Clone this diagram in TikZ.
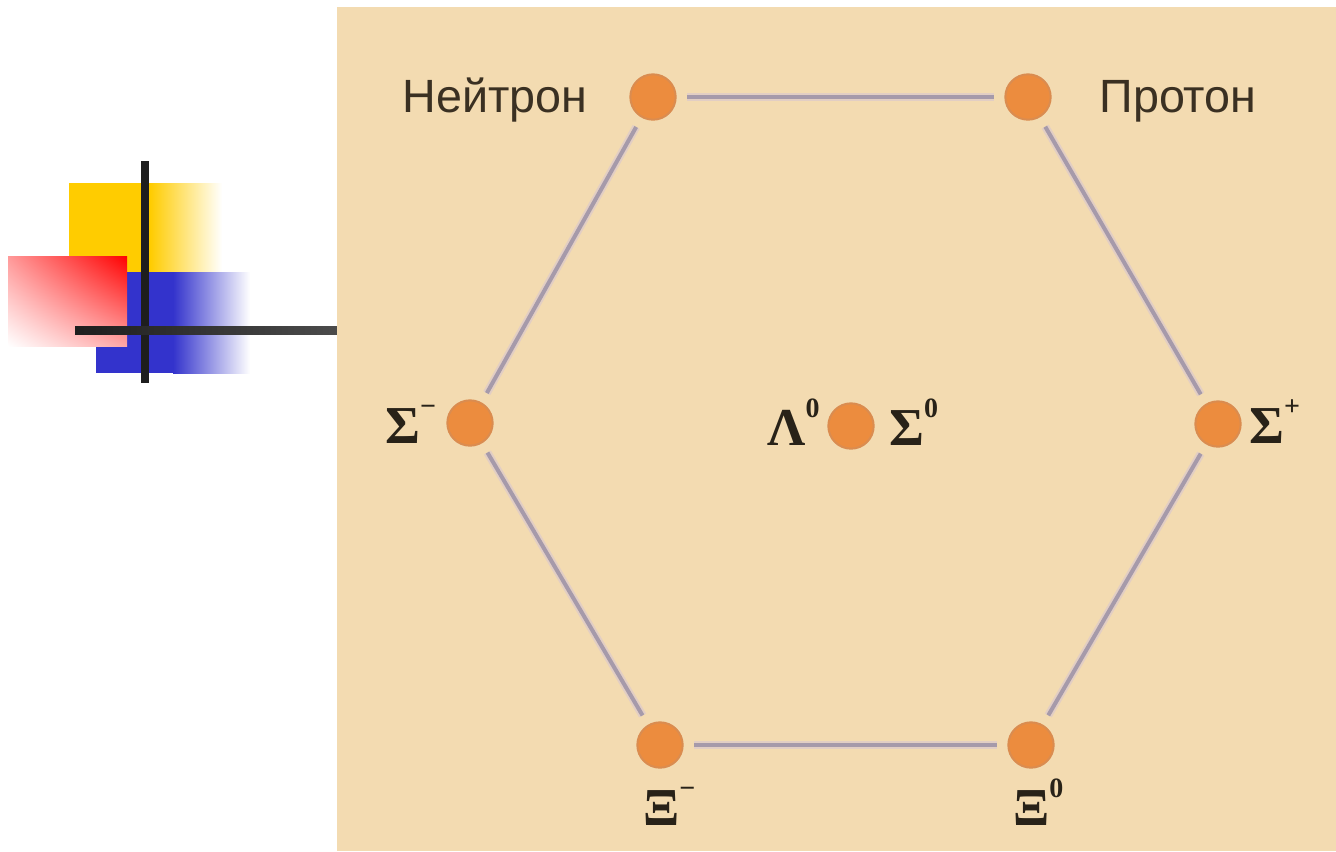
\documentclass[tikz,border=0pt]{standalone}
\usepackage{fontspec}
\usetikzlibrary{shadings}
\newfontfamily\rusfont{Liberation Sans}
\newfontfamily\grkfont{Liberation Serif}
\newcommand\gsup[1]{\raisebox{0.52em}{\fontsize{21}{21}\selectfont #1}}
\definecolor{beige}{RGB}{243,219,177}
\definecolor{dotfill}{RGB}{236,140,62}
\definecolor{dotedge}{RGB}{218,140,80}
\definecolor{edgecol}{RGB}{166,154,170}
\definecolor{halocol}{RGB}{226,206,196}
\definecolor{txtcol}{RGB}{58,48,34}
\definecolor{gtxt}{RGB}{40,34,24}
\definecolor{yel}{RGB}{255,204,0}
\definecolor{blu}{RGB}{51,51,204}
\definecolor{rd}{RGB}{255,0,0}
\definecolor{barcol}{RGB}{30,30,30}
\tikzset{
  particle/.style={circle, inner sep=0pt, minimum size=34pt, fill=dotfill, draw=dotedge, line width=1.5pt},
  halo/.style={draw=halocol, line width=6pt, shorten >=8pt, shorten <=8pt},
  bond/.style={draw=edgecol, line width=3pt, shorten >=8pt, shorten <=8pt},
  rlabel/.style={font=\rusfont\fontsize{35}{40}\selectfont, text=txtcol, inner sep=0pt, anchor=base},
  glabel/.style={font=\grkfont\bfseries\fontsize{40}{44}\selectfont, text=gtxt, inner sep=0pt, anchor=base west}
}
\begin{document}
\begin{tikzpicture}[x=0.75pt,y=-0.75pt]
\useasboundingbox (0,0) rectangle (1336,851);
% left decoration
\fill[yel] (69,183) rectangle (150,272);
\shade[left color=yel, right color=white] (150,183) rectangle (222,272);
\fill[blu] (96,272) rectangle (173,373);
\shade[left color=blu, right color=white] (173,272) rectangle (250,373);
\shade[upper left=rd!40, upper right=rd, lower left=white, lower right=rd!35] (8,256) rectangle (127,346);
\fill[barcol] (141,161) rectangle (149,383);
\shade[left color=barcol, right color=barcol!80!white] (75,326) rectangle (337,334);
% background panel
\fill[beige] (337,7) rectangle (1336,851);
% particles
\node[particle] (n) at (653,97) {};
\node[particle] (p) at (1028,97) {};
\node[particle] (sm) at (470,423) {};
\node[particle] (c) at (851,426) {};
\node[particle] (sp) at (1218,424) {};
\node[particle] (xm) at (660,745) {};
\node[particle] (x0) at (1031,745) {};
% edges
\foreach \a/\b in {n/p, p/sp, sp/x0, x0/xm, xm/sm, sm/n}{
  \path[halo] (\a) -- (\b);
}
\foreach \a/\b in {n/p, p/sp, sp/x0, x0/xm, xm/sm, sm/n}{
  \path[bond] (\a) -- (\b);
}
% labels
\node[rlabel] (ln) at (495,112) {Нейтрон};
\node[rlabel] (lp) at (1178,112) {Протон};
\node[glabel] (lsm) at (385,443) {Σ\gsup{−}};
\node[glabel] (ll) at (767,445) {Λ\gsup{0}};
\node[glabel] (ls0) at (889,445) {Σ\gsup{0}};
\node[glabel] (lsp) at (1249,443) {Σ\gsup{+}};
\node[glabel] (lxm) at (643,825) {Ξ\gsup{−}};
\node[glabel] (lx0) at (1013,825) {Ξ\gsup{0}};
\end{tikzpicture}
\end{document}
